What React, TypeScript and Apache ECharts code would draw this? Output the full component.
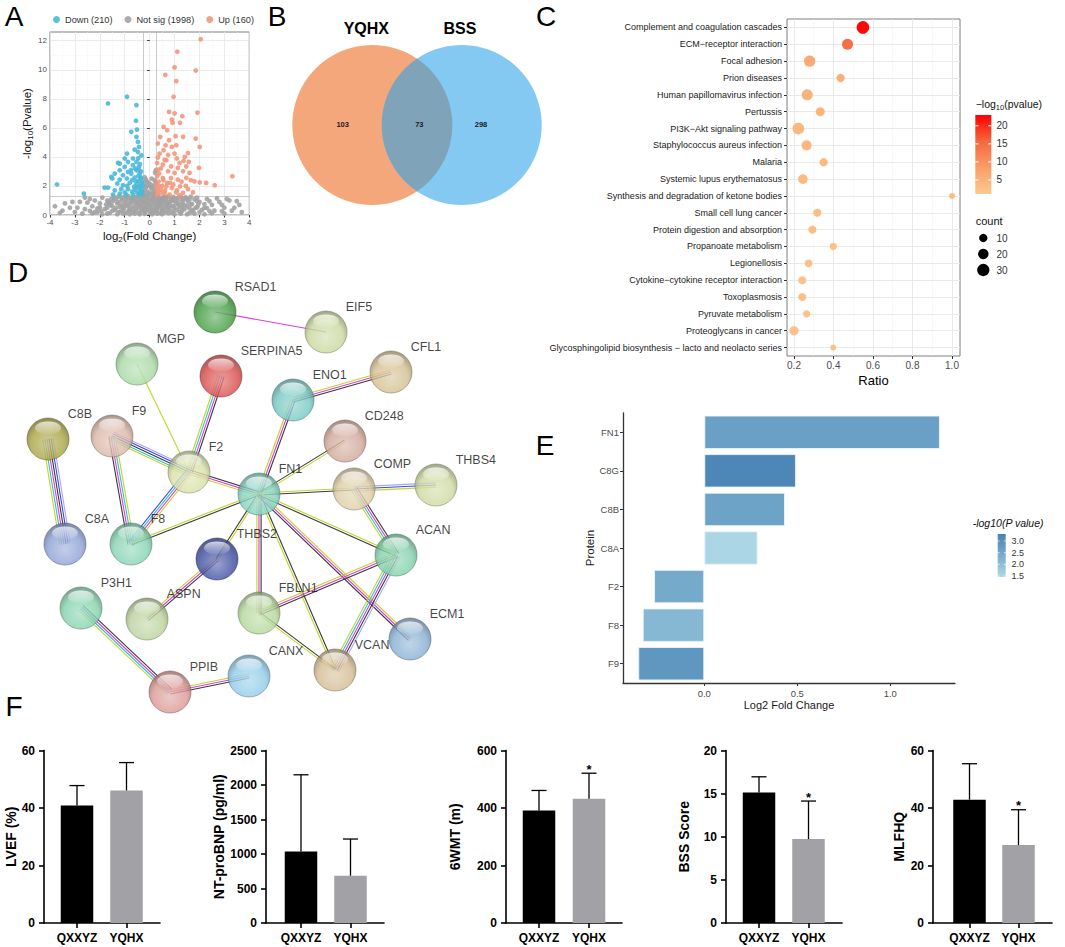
import React, { useEffect, useRef } from "react";
import * as echarts from "echarts";

const FONT = "'Liberation Sans', Arial, Helvetica, sans-serif";

// ================= Panel A : volcano =================
const volcanoNames = ["Down (210)", "Not sig (1998)", "Up (160)"];
const volcanoDown: number[][] = [
  [-3.72, 2.1], [-2.64, 1.47], [-1.67, 7.68], [-0.91, 8.14], [-0.53, 7.57], [-0.55, 6.49], [-0.74, 5.73],
  [-0.51, 5.88], [-0.53, 5.38], [-0.47, 5.03], [-0.43, 4.69], [-0.6, 4.5], [-0.91, 4.23], [-0.47, 4.34],
  [-0.67, 3.89], [-0.33, 4.1], [-1.0, 3.89], [-0.87, 3.66], [-0.53, 3.66], [-1.2, 3.54], [-1.0, 3.31],
  [-0.67, 3.43], [-0.43, 3.31], [-1.2, 3.08], [-0.87, 2.97], [-0.53, 3.08], [-1.4, 2.85], [-1.07, 2.74],
  [-0.74, 2.85], [-0.4, 2.85], [-1.5, 2.51], [-1.2, 2.44], [-0.91, 2.51], [-0.6, 2.58], [-0.36, 2.51],
  [-1.81, 1.89], [-1.67, 1.89], [-1.3, 2.17], [-1.07, 2.05], [-0.8, 2.21], [-0.53, 2.05], [-1.4, 1.7],
  [-1.14, 1.78], [-0.87, 1.78], [-0.6, 1.74], [-0.4, 1.82], [-1.47, 1.4], [-1.2, 1.47], [-0.94, 1.4],
  [-0.67, 1.4], [-0.4, 1.4], [-0.36, 1.97], [-1.27, 3.59], [-1.54, 2.63], [-0.3, 2.3], [-0.32, 1.6],
  [-0.45, 2.7], [-0.35, 3.0], [-0.28, 2.0], [-0.3, 1.45], [-0.5, 1.55], [-0.7, 1.6], [-0.45, 2.35],
  [-0.33, 1.75], [-0.38, 2.15], [-0.42, 1.5], [-0.48, 1.9], [-0.55, 2.3], [-0.62, 1.95], [-0.7, 2.4],
  [-0.36, 2.6], [-0.44, 3.1], [-0.39, 3.5], [-0.46, 3.9], [-0.58, 3.2], [-0.75, 3.1], [-0.9, 2.0], [-1.0, 1.55],
];
const volcanoUp: number[][] = [
  [2.05, 12.1], [1.11, 11.24], [1.0, 10.16], [0.63, 9.65], [1.85, 9.95], [1.07, 9.22], [0.96, 8.14],
  [0.78, 7.1], [1.0, 7.0], [1.31, 6.8], [1.92, 7.05], [0.89, 6.57], [0.92, 6.35], [1.22, 6.35],
  [0.56, 6.07], [0.7, 5.84], [0.42, 5.38], [1.04, 5.43], [1.34, 5.38], [1.85, 5.26], [0.33, 4.92],
  [0.64, 4.8], [1.07, 4.8], [0.89, 4.69], [2.01, 4.69], [0.4, 4.23], [0.74, 4.13], [1.0, 4.23],
  [1.54, 4.27], [0.33, 3.96], [0.67, 3.77], [1.09, 3.89], [1.36, 3.72], [0.3, 3.58], [0.53, 3.47],
  [0.86, 3.35], [1.2, 3.58], [1.47, 3.35], [1.98, 3.24], [0.33, 3.12], [0.74, 3.01], [1.0, 2.9],
  [1.34, 3.01], [1.6, 2.9], [0.3, 2.67], [0.53, 2.55], [0.86, 2.55], [1.13, 2.44], [1.47, 2.55],
  [3.32, 2.67], [1.8, 2.32], [2.01, 2.25], [2.27, 2.21], [2.61, 2.05], [0.28, 2.09], [0.4, 1.97],
  [0.67, 1.97], [0.89, 1.86], [1.22, 1.97], [1.54, 1.78], [0.33, 1.63], [0.6, 1.52], [1.07, 1.56],
  [1.34, 1.52], [1.74, 1.56], [0.3, 1.4], [0.8, 1.4], [1.2, 1.36], [0.46, 1.74], [0.82, 2.21],
  [1.13, 3.24], [1.57, 3.66], [1.41, 4.0], [0.78, 5.15], [0.56, 4.46],
  [0.3, 1.8], [0.36, 2.3], [0.45, 1.5], [0.5, 2.0], [0.55, 2.4], [0.62, 1.7], [0.7, 2.2], [0.38, 2.85],
  [0.45, 3.2], [0.6, 3.8], [0.95, 2.1], [1.1, 1.7], [1.28, 2.3], [1.45, 2.0], [1.65, 2.4],
];
const volcanoNotSig: number[][] = [
  [-0.2, 2.6], [-0.1, 2.3], [0.05, 2.1], [-0.15, 1.9], [0.1, 1.8], [-0.05, 1.6], [0.2, 1.5], [-0.22, 1.4],
  [0.15, 1.35], [0.0, 1.45], [-0.12, 2.0], [0.08, 2.5], [0.22, 2.9], [0.25, 3.1], [0.24, 2.2], [-0.21, 2.2],
  [-0.18, 1.7], [0.18, 2.0], [-0.24, 1.6], [-0.2, 1.35], [0.22, 1.7], [0.12, 1.55], [-0.08, 1.4], [0.05, 1.9],
  [-0.03, 2.2], [0.2, 2.4], [-0.15, 2.45], [0.16, 1.4],
  [-0.9, 1.2], [-0.7, 1.1], [-0.5, 1.25], [-0.3, 1.15], [-0.1, 1.2], [0.1, 1.1], [0.3, 1.25], [0.5, 1.15],
  [0.7, 1.2], [0.9, 1.1], [-1.1, 1.0], [-0.8, 0.95], [-0.6, 0.9], [-0.4, 1.0], [-0.2, 0.9], [0.0, 1.0],
  [0.2, 0.95], [0.4, 0.9], [0.6, 1.0], [0.8, 0.9], [1.0, 1.0], [-1.3, 0.8], [-1.0, 0.75], [-0.75, 0.8],
  [-0.45, 0.75], [-0.25, 0.8], [-0.05, 0.75], [0.15, 0.8], [0.35, 0.75], [0.55, 0.8], [0.75, 0.75],
  [1.05, 0.8], [1.3, 0.75], [-1.5, 0.6], [-1.2, 0.55], [-0.9, 0.6], [-0.65, 0.55], [-0.35, 0.6],
  [-0.15, 0.55], [0.05, 0.6], [0.25, 0.55], [0.45, 0.6], [0.65, 0.55], [0.95, 0.6], [1.2, 0.55], [1.5, 0.6],
  [-1.8, 0.4], [-1.4, 0.35], [-1.05, 0.4], [-0.8, 0.35], [-0.55, 0.4], [-0.3, 0.35], [-0.1, 0.4], [0.1, 0.35],
  [0.3, 0.4], [0.5, 0.35], [0.8, 0.4], [1.1, 0.35], [1.4, 0.4], [1.75, 0.35], [-2.1, 0.2], [-1.6, 0.15],
  [-1.25, 0.2], [-0.95, 0.15], [-0.7, 0.2], [-0.45, 0.15], [-0.2, 0.2], [0.0, 0.15], [0.2, 0.2], [0.4, 0.15],
  [0.6, 0.2], [0.9, 0.15], [1.2, 0.2], [1.6, 0.15], [2.0, 0.2], [-1.9, 0.05], [-1.3, 0.05], [-0.8, 0.05],
  [-0.4, 0.05], [0.1, 0.05], [0.5, 0.05], [1.0, 0.05], [1.5, 0.05], [2.2, 0.05],
  [-3.8, 0.6], [-3.5, 0.3], [-3.2, 0.5], [-3.0, 0.2], [-2.8, 0.9], [-2.6, 0.4], [-2.4, 1.1], [-2.3, 0.6],
  [-2.0, 0.8], [-1.9, 1.2], [-1.7, 1.0], [-1.6, 0.7], [-1.4, 1.15], [-2.6, 1.2], [-3.1, 0.9], [-2.1, 0.45],
  [3.6, 0.7], [3.3, 0.3], [3.0, 0.5], [2.8, 0.9], [2.6, 0.3], [2.5, 0.7], [2.3, 1.1], [2.2, 0.5], [2.0, 0.9],
  [1.9, 1.2], [1.7, 0.75], [1.6, 1.05], [1.4, 1.15], [2.7, 1.15], [3.2, 1.0], [2.1, 0.35], [3.5, 0.95],
  [1.85, 0.5], [-0.6, 1.2], [-0.35, 1.05], [0.35, 1.05], [0.6, 1.25], [-1.15, 1.2], [1.15, 1.2],
  [-1.45, 1.25], [-1.25, 1.28], [-1.05, 1.22], [-0.85, 1.28], [-0.65, 1.22], [-0.45, 1.28], [-0.25, 1.24],
  [-0.05, 1.28], [0.15, 1.22], [0.35, 1.28], [0.55, 1.22], [0.75, 1.28], [0.95, 1.24], [1.25, 1.27],
  [1.45, 1.22], [1.65, 1.27], [-1.55, 1.08], [-1.35, 1.12], [-0.95, 1.08], [-0.75, 1.14], [-0.55, 1.06],
  [-0.15, 1.1], [0.05, 1.06], [0.25, 1.14], [0.45, 1.06], [0.65, 1.12], [0.85, 1.04], [1.05, 1.12],
  [1.3, 1.06], [1.5, 1.12], [1.8, 1.08], [-1.65, 0.92], [-1.45, 0.98], [-1.25, 0.9], [-0.95, 0.88],
  [-0.7, 0.98], [-0.5, 0.86], [-0.3, 0.96], [-0.1, 0.86], [0.1, 0.98], [0.3, 0.86], [0.5, 0.96], [0.7, 0.88],
  [0.9, 0.98], [1.15, 0.9], [1.35, 0.96], [1.55, 0.88], [1.9, 0.95], [-1.75, 0.72], [-1.55, 0.78],
  [-1.15, 0.7], [-0.85, 0.68], [-0.55, 0.7], [-0.35, 0.66], [-0.15, 0.7], [0.05, 0.68], [0.25, 0.72],
  [0.45, 0.68], [0.65, 0.7], [0.85, 0.66], [1.15, 0.7], [1.4, 0.66], [1.65, 0.72], [1.95, 0.7],
  [-2.0, 0.52], [-1.7, 0.5], [-1.35, 0.48], [-1.05, 0.52], [-0.75, 0.46], [-0.45, 0.5], [-0.25, 0.46],
  [-0.05, 0.5], [0.15, 0.46], [0.35, 0.5], [0.55, 0.46], [0.75, 0.52], [1.0, 0.48], [1.3, 0.5], [1.6, 0.46],
  [1.9, 0.52], [2.3, 0.48], [-2.4, 0.28], [-1.95, 0.26], [-1.5, 0.28], [-1.15, 0.25], [-0.85, 0.28],
  [-0.6, 0.26], [-0.35, 0.25], [-0.15, 0.29], [0.05, 0.26], [0.25, 0.29], [0.5, 0.25], [0.7, 0.28],
  [0.95, 0.26], [1.3, 0.28], [1.7, 0.25], [2.4, 0.27], [2.9, 0.26], [-2.7, 0.1], [-2.3, 0.12], [-1.7, 0.1],
  [-1.05, 0.1], [-0.6, 0.1], [-0.2, 0.08], [0.3, 0.1], [0.75, 0.12], [1.25, 0.1], [1.8, 0.1], [2.5, 0.12],
  [3.0, 0.1], [-3.4, 0.8], [-2.9, 0.5], [-2.5, 0.85], [-2.2, 1.0], [2.4, 0.95], [2.9, 0.7], [3.1, 1.1],
  [3.4, 0.5], [2.2, 0.75], [-2.2, 0.2], [-3.6, 0.15], [3.7, 0.2],
];
const volcanoYTicks = [0, 2, 4, 6, 8, 10, 12];
const fcCutoff = 0.263;
const pCutoff = 1.3;

// ================= Panel B : Venn =================
const vennSets = ["YQHX", "BSS"];
const vennCounts = [103, 298, 73]; // YQHX only, BSS only, shared

// ================= Panel C : KEGG dot plot =================
const keggTerms = [
  "Complement and coagulation cascades",
  "ECM−receptor interaction",
  "Focal adhesion",
  "Prion diseases",
  "Human papillomavirus infection",
  "Pertussis",
  "PI3K−Akt signaling pathway",
  "Staphylococcus aureus infection",
  "Malaria",
  "Systemic lupus erythematosus",
  "Synthesis and degradation of ketone bodies",
  "Small cell lung cancer",
  "Protein digestion and absorption",
  "Propanoate metabolism",
  "Legionellosis",
  "Cytokine−cytokine receptor interaction",
  "Toxoplasmosis",
  "Pyruvate metabolism",
  "Proteoglycans in cancer",
  "Glycosphingolipid biosynthesis − lacto and neolacto series",
];
const keggRatio = [0.549, 0.471, 0.279, 0.436, 0.267, 0.333, 0.222, 0.264, 0.35, 0.245, 1.0, 0.318, 0.293, 0.399, 0.274, 0.242, 0.242, 0.264, 0.2, 0.399];
const keggCount = [32, 23, 24, 10, 23, 13, 27, 18, 10, 16, 2, 9, 9, 6, 8, 9, 9, 6, 14, 2];
const keggLogP = [22.5, 14.5, 6.5, 5.5, 5, 4.5, 4, 4, 3.6, 3.5, 3.2, 3, 3, 2.6, 2.6, 2.5, 2.5, 2.5, 2.3, 2.1];
const keggXTicks = [0.2, 0.4, 0.6, 0.8, 1.0];
const keggXMinor = [0.3, 0.5, 0.7, 0.9];
const keggColorTicks = [5, 10, 15, 20];
const keggSizeTicks = [10, 20, 30];
const keggColorMin = 1.1;
const keggColorMax = 23;

// ================= Panel D : PPI network =================
const ppiProteins = [
  "RSAD1", "EIF5", "MGP", "SERPINA5", "CFL1", "ENO1", "CD248", "C8B", "F9", "F2", "FN1", "COMP",
  "THBS4", "C8A", "F8", "THBS2", "ACAN", "P3H1", "ASPN", "FBLN1", "ECM1", "VCAN", "PPIB", "CANX",
];
// evidence codes: K coexpression, M experiments, C databases, Y text-mining, B co-occurrence, L homology
const ppiEdges: [string, string, string][] = [
  ["RSAD1", "EIF5", "M"], ["MGP", "F2", "Y"], ["SERPINA5", "F2", "KMCY"], ["ENO1", "CFL1", "YMK"],
  ["ENO1", "FN1", "KMY"], ["CD248", "FN1", "YK"], ["C8B", "C8A", "LBKMCY"], ["F9", "F2", "LBKCY"],
  ["F9", "F8", "YCMK"], ["F2", "FN1", "KMY"], ["F2", "F8", "YMCB"], ["F8", "FN1", "YK"],
  ["FN1", "COMP", "YK"], ["COMP", "THBS4", "LBY"], ["COMP", "ACAN", "KMCY"], ["FN1", "THBS2", "YK"],
  ["FN1", "FBLN1", "KMY"], ["FN1", "VCAN", "KY"], ["FN1", "ECM1", "YMK"], ["FN1", "ACAN", "YK"],
  ["ACAN", "FBLN1", "KMY"], ["ACAN", "VCAN", "LKMCY"], ["FBLN1", "VCAN", "KY"], ["THBS2", "ASPN", "KMY"],
  ["P3H1", "PPIB", "KMCY"], ["PPIB", "CANX", "YMK"],
];

// ================= Panel E : DEG bars =================
const degProteins = ["FN1", "C8G", "C8B", "C8A", "F2", "F8", "F9"];
const degLog2FC = [1.267, 0.493, 0.434, 0.287, -0.27, -0.331, -0.355];
const degLogP = [2.65, 3.2, 2.6, 1.5, 2.45, 2.15, 2.85];
const degXTicks = [0, 0.5, 1.0];
const degColorTicks = [1.5, 2.0, 2.5, 3.0];
const degColorMin = 1.46;
const degColorMax = 3.3;

// ================= Panel F : clinical bars =================
const fGroups = ["QXXYZ", "YQHX"];
const fMeasures = ["LVEF (%)", "NT-proBNP (pg/ml)", "6WMT (m)", "BSS Score", "MLFHQ"];
const fMeanQXXYZ = [40.9, 1037, 391, 15.13, 42.9];
const fMeanYQHX = [46.1, 685, 432, 9.73, 27.1];
const fUpperQXXYZ = [47.8, 2148, 461, 16.95, 55.4];
const fUpperYQHX = [55.8, 1217, 521, 14.14, 39.4];
const fSigYQHX = [false, false, true, true, true];
const fAxisMax = [60, 2500, 600, 20, 60];
const fAxisStep = [20, 500, 200, 5, 20];

// ================= layout / style (not data) =================
const ppiLayout: Record<string, [number, number, string]> = {
  RSAD1: [215, 312, "#3f9b3f"], EIF5: [326, 332, "#c8d79c"], MGP: [137, 364, "#a6d8a2"],
  SERPINA5: [221, 376, "#d94a4a"], CFL1: [391, 372, "#d3be8e"], ENO1: [293, 400, "#74c8c2"],
  CD248: [345, 441, "#d0a697"], C8B: [48, 439, "#a8a240"], F9: [112, 436, "#dab5a5"],
  F2: [189, 472, "#d8e0a6"], FN1: [259, 494, "#82d2c0"], COMP: [354, 489, "#ddcda5"],
  THBS4: [436, 485, "#cdd99e"], C8A: [65, 544, "#8ca0d4"], F8: [131, 544, "#84d2b2"],
  THBS2: [217, 559, "#3c4ca0"], ACAN: [396, 555, "#7ed0a7"], P3H1: [81, 608, "#82d2aa"],
  ASPN: [147, 619, "#b8d19a"], FBLN1: [259, 613, "#b2d798"], ECM1: [410, 639, "#86aed2"],
  VCAN: [335, 670, "#d3ba90"], PPIB: [170, 692, "#da9794"], CANX: [249, 676, "#8ecbe8"],
};
const EDGE_COLORS: Record<string, string> = {
  K: "#3a3a3a", M: "#d93fd9", C: "#2bc2cf", Y: "#c3d42a", B: "#3b45e8", L: "#a8a8f6",
};
const vennLayout = { left: [372.3, 125], right: [461.7, 125], r: 80 };
const vennLabelPos = [[342.7, 124.5], [481, 124.5], [419.3, 124.5]];
const vennColors = ["#f5a77c", "#84c9f1", "#7fa4ba"];
const keggColors = ["#fdc88f", "#fa9e68", "#f4683e", "#ff0000"];
const degColors = ["#add8e6", "#4682b4"];
const fBarColors = ["#000000", "#a2a2a6"];
const fLayout = [
  { axis: 44, c1: 77, c2: 126.5, end: 160, nameGap: 24 },
  { axis: 266, c1: 301, c2: 350.5, end: 384, nameGap: 37 },
  { axis: 506, c1: 539, c2: 589, end: 622, nameGap: 44 },
  { axis: 726, c1: 759, c2: 808.5, end: 842, nameGap: 35 },
  { axis: 933, c1: 969.5, c2: 1018.5, end: 1052, nameGap: 27 },
];

function mix(hex: string, target: string, t: number) {
  const p = (h: string) => [1, 3, 5].map((i) => parseInt(h.slice(i, i + 2), 16));
  const a = p(hex);
  const b = p(target);
  return "#" + a.map((v, i) => Math.round(v + (b[i] - v) * t).toString(16).padStart(2, "0")).join("");
}
const keggSize = (count: number) => Math.sqrt(28 + 4.1 * count);

function buildOption() {
  const grids: any[] = [];
  const xAxes: any[] = [];
  const yAxes: any[] = [];
  const series: any[] = [];
  const graphics: any[] = [];

  // ---------- A ----------
  grids.push({ left: 50, top: 32, width: 199.3, height: 183, show: true, borderColor: "#7f7f7f", borderWidth: 1 });
  const richA = {
    a: { fontSize: 11.5, lineHeight: 15, fontFamily: FONT, color: "#111" },
    s: { fontSize: 8, lineHeight: 8, verticalAlign: "bottom", fontFamily: FONT, color: "#111" },
  };
  xAxes.push({
    gridIndex: 0, type: "value", min: -4, max: 4, interval: 1,
    axisLine: { show: false }, axisTick: { show: true, length: 2.5, lineStyle: { color: "#333" } },
    axisLabel: { fontSize: 8, color: "#4d4d4d", margin: 3, fontFamily: FONT },
    splitLine: { show: true, lineStyle: { color: "#e6e6e6", width: 0.8 } },
    minorTick: { show: false, splitNumber: 2 },
    minorSplitLine: { show: true, lineStyle: { color: "#f4f4f4", width: 0.5 } },
    name: "{a|log}{s|2}{a|(Fold Change)}", nameLocation: "middle", nameGap: 13,
    nameTextStyle: { rich: richA },
  });
  yAxes.push({
    gridIndex: 0, type: "value", min: 0, max: 12.6, interval: 2,
    axisLine: { show: false },
    axisTick: { show: true, length: 2.5, customValues: volcanoYTicks, lineStyle: { color: "#333" } },
    axisLabel: { customValues: volcanoYTicks, fontSize: 8, color: "#4d4d4d", margin: 3, fontFamily: FONT },
    splitLine: { show: true, lineStyle: { color: "#e6e6e6", width: 0.8 } },
    minorTick: { show: false, splitNumber: 2 },
    minorSplitLine: { show: true, lineStyle: { color: "#f4f4f4", width: 0.5 } },
    name: "{a|-log}{s|10}{a|(Pvalue)}", nameLocation: "middle", nameGap: 14, nameRotate: 90,
    nameTextStyle: { rich: richA },
  });
  series.push({
    type: "scatter", name: volcanoNames[1], xAxisIndex: 0, yAxisIndex: 0, data: volcanoNotSig,
    symbolSize: 4.8, itemStyle: { color: "#a3a3a3", opacity: 0.9 },
    markLine: {
      silent: true, symbol: "none", z: 1, label: { show: false },
      lineStyle: { color: "#b5b5b5", width: 0.7, type: "solid" },
      data: [{ xAxis: -fcCutoff }, { xAxis: fcCutoff }, { yAxis: pCutoff }],
    },
  });
  series.push({
    type: "scatter", name: volcanoNames[0], xAxisIndex: 0, yAxisIndex: 0, data: volcanoDown,
    symbolSize: 4.8, itemStyle: { color: "#4ab9d8", opacity: 0.9 },
  });
  series.push({
    type: "scatter", name: volcanoNames[2], xAxisIndex: 0, yAxisIndex: 0, data: volcanoUp,
    symbolSize: 4.8, itemStyle: { color: "#f2977b", opacity: 0.9 },
  });

  // ---------- canvas grid (B + D) ----------
  grids.push({ left: 0, top: 0, width: 1065, height: 947, show: false });
  xAxes.push({ gridIndex: 1, type: "value", min: 0, max: 1065, show: false });
  yAxes.push({ gridIndex: 1, type: "value", min: 0, max: 947, inverse: true, show: false });

  // B: venn
  series.push({
    type: "custom", xAxisIndex: 1, yAxisIndex: 1, silent: true, z: 2,
    data: vennCounts.map((c, i) => [i, c]),
    renderItem: (params: any, api: any) => {
      const i = params.dataIndex;
      const c1 = api.coord(vennLayout.left);
      const c2 = api.coord(vennLayout.right);
      const r = api.size([vennLayout.r, 0])[0];
      const lp = api.coord(vennLabelPos[i]);
      const label = {
        type: "text", x: lp[0], y: lp[1],
        style: { text: String(vennCounts[i]), fontSize: 7.5, fontWeight: "bold", fill: "#1a1a1a", align: "center", verticalAlign: "middle", fontFamily: FONT },
      };
      let shape: any;
      if (i === 0) shape = { type: "circle", shape: { cx: c1[0], cy: c1[1], r }, style: { fill: vennColors[0] } };
      else if (i === 1) shape = { type: "circle", shape: { cx: c2[0], cy: c2[1], r }, style: { fill: vennColors[1] } };
      else {
        const d = c2[0] - c1[0];
        const beta = Math.acos(d / 2 / r);
        const pts: number[][] = [];
        const n = 40;
        for (let k = 0; k <= n; k++) {
          const a = -beta + (2 * beta * k) / n;
          pts.push([c1[0] + r * Math.cos(a), c1[1] + r * Math.sin(a)]);
        }
        for (let k = 0; k <= n; k++) {
          const a = Math.PI - beta + (2 * beta * k) / n;
          pts.push([c2[0] + r * Math.cos(a), c2[1] + r * Math.sin(a)]);
        }
        shape = { type: "polygon", shape: { points: pts }, style: { fill: vennColors[2] } };
      }
      return { type: "group", children: [shape, label] };
    },
  });

  // D: edges
  series.push({
    type: "custom", xAxisIndex: 1, yAxisIndex: 1, silent: true, z: 2,
    data: ppiEdges.map(([a, b]) => [ppiLayout[a][0], ppiLayout[a][1], ppiLayout[b][0], ppiLayout[b][1]]),
    encode: { x: [0, 2], y: [1, 3] },
    renderItem: (params: any, api: any) => {
      const e = ppiEdges[params.dataIndex];
      const p1 = api.coord([api.value(0), api.value(1)]);
      const p2 = api.coord([api.value(2), api.value(3)]);
      const dx = p2[0] - p1[0];
      const dy = p2[1] - p1[1];
      const len = Math.hypot(dx, dy) || 1;
      const nx = -dy / len;
      const ny = dx / len;
      const codes = e[2].split("");
      const gap = 2.1;
      return {
        type: "group",
        children: codes.map((c, k) => {
          const off = (k - (codes.length - 1) / 2) * gap;
          return {
            type: "line",
            shape: { x1: p1[0] + nx * off, y1: p1[1] + ny * off, x2: p2[0] + nx * off, y2: p2[1] + ny * off },
            style: { stroke: EDGE_COLORS[c], lineWidth: 1.1 },
          };
        }),
      };
    },
  });
  // D: nodes
  series.push({
    type: "scatter", xAxisIndex: 1, yAxisIndex: 1, z: 3, silent: true, symbolSize: 42,
    data: ppiProteins.map((p) => {
      const [x, y, col] = ppiLayout[p];
      return {
        name: p, value: [x, y],
        itemStyle: {
          color: {
            type: "radial", x: 0.5, y: 0.62, r: 0.62,
            colorStops: [
              { offset: 0, color: mix(col, "#ffffff", 0.35) },
              { offset: 0.65, color: col },
              { offset: 1, color: mix(col, "#000000", 0.35) },
            ],
          },
          borderColor: mix(col, "#000000", 0.45), borderWidth: 0.6,
        },
      };
    }),
    label: {
      show: true, formatter: "{b}", position: [41, -4], align: "left", verticalAlign: "middle",
      fontSize: 12.5, color: "#111", fontFamily: FONT,
    },
  });
  // D: glossy highlights
  series.push({
    type: "scatter", xAxisIndex: 1, yAxisIndex: 1, z: 4, silent: true,
    symbolSize: [26, 13], symbolOffset: [0, -11],
    data: ppiProteins.map((p) => [ppiLayout[p][0], ppiLayout[p][1]]),
    itemStyle: {
      color: {
        type: "linear", x: 0, y: 0, x2: 0, y2: 1,
        colorStops: [{ offset: 0, color: "rgba(255,255,255,0.9)" }, { offset: 1, color: "rgba(255,255,255,0.08)" }],
      },
    },
  });

  // ---------- C ----------
  grids.push({ left: 787, top: 19, width: 173, height: 337, show: true, borderColor: "#7f7f7f", borderWidth: 1 });
  xAxes.push({
    gridIndex: 2, type: "value", min: 0.1646, max: 1.0405,
    axisLine: { show: false },
    axisTick: { show: true, customValues: keggXTicks, length: 3, lineStyle: { color: "#333" } },
    axisLabel: { customValues: keggXTicks, formatter: (v: number) => v.toFixed(1), fontSize: 10, color: "#4d4d4d", margin: 4, fontFamily: FONT },
    splitLine: { show: false },
    name: "Ratio", nameLocation: "middle", nameGap: 18, nameTextStyle: { fontSize: 13, color: "#000", fontFamily: FONT },
  });
  yAxes.push({
    gridIndex: 2, type: "category", data: keggTerms, inverse: true,
    axisLine: { show: false, onZero: false },
    axisTick: { show: true, alignWithLabel: true, length: 3, lineStyle: { color: "#333" } },
    axisLabel: { fontSize: 9, color: "#1a1a1a", margin: 5, interval: 0, fontFamily: FONT },
    splitLine: { show: false },
  });
  const cIdx = series.length;
  series.push({
    type: "scatter", xAxisIndex: 2, yAxisIndex: 2, z: 3,
    data: keggTerms.map((t, i) => [keggRatio[i], t, keggCount[i], keggLogP[i]]),
    encode: { x: 0, y: 1 },
    symbolSize: (v: any) => keggSize(v[2]),
    itemStyle: { opacity: 1 },
    markLine: {
      silent: true, symbol: "none", z: 1, label: { show: false }, animation: false,
      lineStyle: { color: "#e9e9e9", width: 1, type: "solid" },
      data: [
        ...keggXTicks.map((v) => ({ xAxis: v })),
        ...keggXMinor.map((v) => ({ xAxis: v, lineStyle: { color: "#f3f3f3", width: 0.6, type: "solid" } })),
        ...keggTerms.map((t) => ({ yAxis: t })),
      ],
    },
  });

  // ---------- E ----------
  grids.push({ left: 623, top: 413, width: 332, height: 270 });
  xAxes.push({
    gridIndex: 3, type: "value", min: -0.437, max: 1.348,
    axisLine: { show: true, onZero: false, lineStyle: { color: "#333", width: 1.3 } },
    axisTick: { show: true, customValues: degXTicks, length: 3, lineStyle: { color: "#333" } },
    axisLabel: { customValues: degXTicks, formatter: (v: number) => v.toFixed(1), fontSize: 9.5, color: "#4d4d4d", margin: 5, fontFamily: FONT },
    splitLine: { show: false },
    name: "Log2 Fold Change", nameLocation: "middle", nameGap: 16, nameTextStyle: { fontSize: 11, color: "#1a1a1a", fontFamily: FONT },
  });
  yAxes.push({
    gridIndex: 3, type: "category", data: degProteins, inverse: true,
    axisLine: { show: true, onZero: false, lineStyle: { color: "#333", width: 1.3 } },
    axisTick: { show: true, alignWithLabel: true, length: 3, lineStyle: { color: "#333" } },
    axisLabel: { fontSize: 9.5, color: "#4d4d4d", margin: 4, fontFamily: FONT },
    name: "Protein", nameLocation: "middle", nameGap: 25, nameRotate: 90,
    nameTextStyle: { fontSize: 11.5, color: "#1a1a1a", fontFamily: FONT },
  });
  const eIdx = series.length;
  series.push({
    type: "bar", xAxisIndex: 3, yAxisIndex: 3, barWidth: 33.5,
    data: degProteins.map((p, i) => [degLog2FC[i], p, degLogP[i]]),
    encode: { x: 0, y: 1 },
    itemStyle: { borderColor: "rgba(235,244,250,0.9)", borderWidth: 1 },
  });

  // ---------- F ----------
  fMeasures.forEach((m, i) => {
    const L = fLayout[i];
    const g = grids.length;
    const unit = L.c2 - L.c1;
    grids.push({ left: L.axis, top: 750.5, width: L.end - L.axis, height: 172.5 });
    xAxes.push({
      gridIndex: g, type: "value", min: 1 - (L.c1 - L.axis) / unit, max: 2 + (L.end - L.c2) / unit,
      axisLine: { show: true, onZero: false, lineStyle: { color: "#000", width: 1.6 } },
      axisTick: { show: true, customValues: [1, 2], length: 5, lineStyle: { color: "#000", width: 1.6 } },
      axisLabel: {
        customValues: [1, 2], formatter: (v: number) => fGroups[Math.round(v) - 1] ?? "",
        fontSize: 12, fontWeight: "bold", color: "#000", margin: 9, fontFamily: FONT,
      },
      splitLine: { show: false },
    });
    yAxes.push({
      gridIndex: g, type: "value", min: 0, max: fAxisMax[i], interval: fAxisStep[i],
      axisLine: { show: true, onZero: false, lineStyle: { color: "#000", width: 1.6 } },
      axisTick: { show: true, length: 5, lineStyle: { color: "#000", width: 1.6 } },
      axisLabel: { formatter: (v: number) => String(v), fontSize: 12, fontWeight: "bold", color: "#000", margin: 9, fontFamily: FONT },
      splitLine: { show: false },
      name: m, nameLocation: "middle", nameGap: L.nameGap, nameRotate: 90,
      nameTextStyle: { fontSize: 14, fontWeight: "bold", color: "#000", fontFamily: FONT },
    });
    const means = [fMeanQXXYZ[i], fMeanYQHX[i]];
    const uppers = [fUpperQXXYZ[i], fUpperYQHX[i]];
    const sig = [false, fSigYQHX[i]];
    series.push({
      type: "bar", xAxisIndex: g, yAxisIndex: g, barWidth: 32.5, z: 2,
      data: means.map((v, j) => ({ value: [j + 1, v], itemStyle: { color: fBarColors[j] } })),
    });
    series.push({
      type: "custom", xAxisIndex: g, yAxisIndex: g, z: 3, silent: true,
      data: means.map((v, j) => [j + 1, v, uppers[j], sig[j] ? 1 : 0]),
      encode: { x: 0, y: [1, 2] },
      renderItem: (params: any, api: any) => {
        const pm = api.coord([api.value(0), api.value(1)]);
        const pu = api.coord([api.value(0), api.value(2)]);
        const children: any[] = [
          { type: "line", shape: { x1: pm[0], y1: pm[1], x2: pu[0], y2: pu[1] }, style: { stroke: "#000", lineWidth: 1.3 } },
          { type: "line", shape: { x1: pu[0] - 7.5, y1: pu[1], x2: pu[0] + 7.5, y2: pu[1] }, style: { stroke: "#000", lineWidth: 1.3 } },
        ];
        if (api.value(3) === 1) {
          children.push({
            type: "text", x: pu[0], y: pu[1] - 4,
            style: { text: "*", fontSize: 13, fontWeight: "bold", fill: "#000", align: "center", verticalAlign: "middle", fontFamily: FONT },
          });
        }
        return { type: "group", children };
      },
    });
  });

  // ---------- graphics: panel letters, venn names, legends ----------
  const letters: [string, number, number][] = [
    ["A", 14, 16], ["B", 277, 16], ["C", 546, 16], ["D", 18, 272], ["E", 545, 445], ["F", 14, 706],
  ];
  letters.forEach(([t, x, y]) =>
    graphics.push({ type: "text", x, y, style: { text: t, fontSize: 28, fill: "#000", align: "center", verticalAlign: "middle", fontFamily: FONT } })
  );
  graphics.push({ type: "text", x: 366.3, y: 28.3, style: { text: vennSets[0], fontSize: 16, fontWeight: "bold", fill: "#000", align: "center", verticalAlign: "middle", fontFamily: FONT } });
  graphics.push({ type: "text", x: 460, y: 28.3, style: { text: vennSets[1], fontSize: 16, fontWeight: "bold", fill: "#000", align: "center", verticalAlign: "middle", fontFamily: FONT } });

  // C colour legend
  const cBar = { x: 975.3, y: 115, w: 16, h: 79 };
  graphics.push({
    type: "text", x: 975.7, y: 104,
    style: {
      text: "{a|−log}{s|10}{a|(pvalue)}", align: "left", verticalAlign: "middle",
      rich: {
        a: { fontSize: 10.5, lineHeight: 14, fontFamily: FONT, fill: "#111" },
        s: { fontSize: 7.5, lineHeight: 7.5, verticalAlign: "bottom", fontFamily: FONT, fill: "#111" },
      },
    },
  });
  graphics.push({
    type: "rect", shape: { x: cBar.x, y: cBar.y, width: cBar.w, height: cBar.h },
    style: {
      fill: {
        type: "linear", x: 0, y: 0, x2: 0, y2: 1,
        colorStops: keggColors.slice().reverse().map((c, k, arr) => ({ offset: k / (arr.length - 1), color: c })),
      },
    },
  });
  keggColorTicks.forEach((v) => {
    const y = cBar.y + cBar.h - ((v - keggColorMin) / (keggColorMax - keggColorMin)) * cBar.h;
    graphics.push({ type: "line", shape: { x1: cBar.x, y1: y, x2: cBar.x + 3.2, y2: y }, style: { stroke: "#fff", lineWidth: 1 } });
    graphics.push({ type: "line", shape: { x1: cBar.x + cBar.w - 3.2, y1: y, x2: cBar.x + cBar.w, y2: y }, style: { stroke: "#fff", lineWidth: 1 } });
    graphics.push({ type: "text", x: 996.5, y, style: { text: String(v), fontSize: 10, fill: "#333", align: "left", verticalAlign: "middle", fontFamily: FONT } });
  });
  graphics.push({ type: "text", x: 975.7, y: 221, style: { text: "count", fontSize: 11, fill: "#111", align: "left", verticalAlign: "middle", fontFamily: FONT } });
  keggSizeTicks.forEach((v, k) => {
    const y = 238 + k * 16;
    graphics.push({ type: "circle", shape: { cx: 983.3, cy: y, r: keggSize(v) / 2 }, style: { fill: "#000" } });
    graphics.push({ type: "text", x: 996.5, y, style: { text: String(v), fontSize: 10, fill: "#333", align: "left", verticalAlign: "middle", fontFamily: FONT } });
  });

  // E colour legend
  const eBar = { x: 997.7, y: 534, w: 8, h: 43 };
  graphics.push({ type: "text", x: 972.7, y: 523.3, style: { text: "-log10(P value)", fontSize: 10.5, fontStyle: "italic", fill: "#111", align: "left", verticalAlign: "middle", fontFamily: FONT } });
  graphics.push({
    type: "rect", shape: { x: eBar.x, y: eBar.y, width: eBar.w, height: eBar.h },
    style: { fill: { type: "linear", x: 0, y: 0, x2: 0, y2: 1, colorStops: [{ offset: 0, color: degColors[1] }, { offset: 1, color: degColors[0] }] } },
  });
  degColorTicks.forEach((v) => {
    const y = eBar.y + eBar.h - ((v - degColorMin) / (degColorMax - degColorMin)) * eBar.h;
    graphics.push({ type: "line", shape: { x1: eBar.x, y1: y, x2: eBar.x + 1.8, y2: y }, style: { stroke: "#fff", lineWidth: 0.8 } });
    graphics.push({ type: "line", shape: { x1: eBar.x + eBar.w - 1.8, y1: y, x2: eBar.x + eBar.w, y2: y }, style: { stroke: "#fff", lineWidth: 0.8 } });
    graphics.push({ type: "text", x: 1011.5, y, style: { text: v.toFixed(1), fontSize: 9, fill: "#333", align: "left", verticalAlign: "middle", fontFamily: FONT } });
  });

  return {
    animation: false,
    backgroundColor: "#ffffff",
    textStyle: { fontFamily: FONT },
    legend: {
      data: volcanoNames, left: 53, top: 15, icon: "circle", itemWidth: 7, itemHeight: 7, itemGap: 12,
      padding: 0, selectedMode: false, textStyle: { fontSize: 9.2, color: "#333", fontFamily: FONT },
    },
    grid: grids,
    xAxis: xAxes,
    yAxis: yAxes,
    visualMap: [
      { type: "continuous", show: false, seriesIndex: cIdx, dimension: 3, min: keggColorMin, max: keggColorMax, inRange: { color: keggColors } },
      { type: "continuous", show: false, seriesIndex: eIdx, dimension: 2, min: degColorMin, max: degColorMax, inRange: { color: degColors } },
    ],
    series,
    graphic: graphics,
  };
}

export default function App() {
  const ref = useRef<HTMLDivElement>(null);
  useEffect(() => {
    if (!ref.current) return;
    const chart = echarts.init(ref.current, null, { renderer: "svg" });
    chart.setOption(buildOption() as any);
    return () => chart.dispose();
  }, []);
  return (
    <div
      ref={ref}
      style={{ position: "absolute", left: 0, top: 0, width: 1065, height: 947, background: "#fff" }}
    />
  );
}
